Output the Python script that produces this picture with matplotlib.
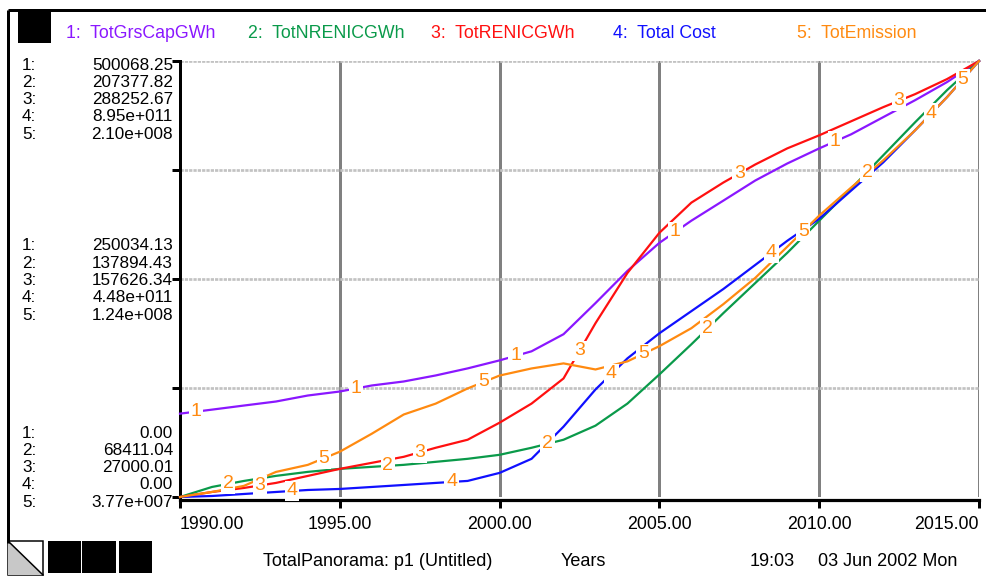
import numpy as np
import matplotlib
matplotlib.use("Agg")
import matplotlib.pyplot as plt
from matplotlib.patches import Rectangle, Polygon

plt.rcParams['font.family'] = ['Liberation Sans', 'DejaVu Sans']

W, H = 987, 576

years = list(range(1990, 2016))

# values, one per year
tot_grs_cap = [95600, 100200, 104900, 109500, 116400, 121000, 127900, 132500,
               139400, 147500, 156700, 167100, 186700, 222400, 259300, 291500,
               316900, 339900, 363000, 382500, 399800, 416000, 435600, 455100,
               475900, 500068]
tot_nrenic = [68411, 71610, 73530, 75140, 76420, 77380, 78020, 78660, 79620,
              80580, 81860, 84100, 86660, 91150, 98190, 107480, 117080, 127010,
              136610, 146220, 156470, 166710, 177280, 187840, 198090, 207378]
tot_renic = [27000, 30010, 32420, 35430, 39640, 43860, 47470, 51080, 56500,
             61320, 71540, 82980, 98030, 131140, 161240, 185320, 203380, 215420,
             226250, 235890, 243710, 252140, 260570, 268390, 277420, 288253]
total_cost = [0, 2.06e9, 6.19e9, 1.03e10, 1.44e10, 1.65e10, 2.06e10, 2.47e10,
              2.89e10, 3.30e10, 4.95e10, 7.84e10, 1.444e11, 2.207e11, 2.846e11,
              3.361e11, 3.815e11, 4.269e11, 4.764e11, 5.259e11, 5.712e11,
              6.290e11, 6.867e11, 7.527e11, 8.208e11, 8.95e11]
tot_emission = [3.77e7, 3.97e7, 4.21e7, 4.76e7, 5.04e7, 5.56e7, 6.27e7, 7.03e7,
                7.46e7, 8.06e7, 8.57e7, 8.85e7, 9.05e7, 8.81e7, 9.13e7, 9.73e7,
                1.044e8, 1.139e8, 1.243e8, 1.366e8, 1.489e8, 1.600e8, 1.707e8,
                1.826e8, 1.957e8, 2.10e8]

names = ["TotGrsCapGWh", "TotNRENICGWh", "TotRENICGWh", "Total Cost", "TotEmission"]
series = [tot_grs_cap, tot_nrenic, tot_renic, total_cost, tot_emission]
colors = ["#8a17ff", "#0a9a4a", "#ff1010", "#1010ff", "#ff8a10"]

scale_top = ["500068.25", "207377.82", "288252.67", "8.95e+011", "2.10e+008"]
scale_mid = ["250034.13", "137894.43", "157626.34", "4.48e+011", "1.24e+008"]
scale_bot = ["0.00", "68411.04", "27000.01", "0.00", "3.77e+007"]

xticks = [1990, 1995, 2000, 2005, 2010, 2015]
xtick_labels = ["1990.00", "1995.00", "2000.00", "2005.00", "2010.00", "2015.00"]

label_color = "#ff8a10"
px = 72.0 / 100  # one pixel in points

fig = plt.figure(figsize=(W / 100, H / 100), dpi=100)

# main frame of the graph
ax = fig.add_axes([180 / W, 1 - 497 / H, (979 - 180) / W, (497 - 61) / H])
ax.set_xlim(1990, 2015)
ax.set_ylim(0, 1)
for s in ["top", "right"]:
    ax.spines[s].set_visible(False)
ax.spines["left"].set_linewidth(3 * px)
ax.spines["bottom"].set_linewidth(3.2 * px)
ax.spines["bottom"].set_position(("outward", 3 * px))

for yr in xticks[1:]:
    ax.axvline(yr, color="#808080", lw=3 * px, zorder=0)
for lev in [0.25, 0.5, 0.75, 1.0]:
    ax.axhline(lev, color="#c2c2c2", lw=2.7 * px, ls=(0, (1.2, 0.4)), zorder=0)

ax.set_xticks(xticks)
ax.set_xticklabels(xtick_labels, fontsize=12.8)
ax.set_yticks([0, 0.25, 0.5, 0.75, 1.0])
ax.set_yticklabels([])
ax.tick_params(axis="x", direction="out", length=8 * px, width=3 * px, pad=6)
ax.tick_params(axis="y", direction="out", length=8 * px, width=3 * px)
tl = ax.get_xticklabels()
tl[0].set_ha("left")
tl[-1].set_ha("right")

# each series on its own scale
twins = []
for vals, col, lo, hi in zip(series, colors, scale_bot, scale_top):
    tw = ax.twinx()
    tw.set_ylim(float(lo), float(hi))
    tw.axis("off")
    tw.plot(years, vals, color=col, lw=1.6, clip_on=False, solid_joinstyle="miter")
    twins.append(tw)

# overlay in pixel coordinates for the panel decoration and texts
ov = fig.add_axes([0, 0, 1, 1])
ov.set_xlim(0, W)
ov.set_ylim(H, 0)
ov.axis("off")

# numbered line labels
for k, (vals, tw) in enumerate(zip(series, twins)):
    for n in range(5):
        x = 1990.5 + k + 5 * n
        y = np.interp(x, years, vals)
        ov.text(x, y, str(k + 1), transform=tw.transData, color=label_color,
                fontsize=14, ha="center", va="center",
                bbox=dict(facecolor="white", edgecolor="none", pad=1.2))

# legend across the top
legend_x = [66, 248, 431, 613, 797]
for k, (nm, col, x) in enumerate(zip(names, colors, legend_x)):
    ov.text(x, 33, f"{k + 1}:  {nm}", color=col, fontsize=12.8,
            ha="left", va="center")

# scale values on the left
for group, y0 in [(scale_top, 65), (scale_mid, 246), (scale_bot, 433)]:
    for k, val in enumerate(group):
        y = y0 + k * 17.3
        ov.text(22, y, f"{k + 1}:", fontsize=12.3, ha="left", va="center")
        ov.text(173, y, val, fontsize=12.3, ha="right", va="center")

# footer
ov.text(263, 561, "TotalPanorama: p1 (Untitled)", fontsize=13, ha="left", va="center")
ov.text(561, 561, "Years", fontsize=13, ha="left", va="center")
ov.text(750, 561, "19:03", fontsize=13, ha="left", va="center")
ov.text(818, 561, "03 Jun 2002 Mon", fontsize=13, ha="left", va="center")

# window decoration
ov.plot([8, W], [10, 10], color="black", lw=3 * px, solid_capstyle="butt")
ov.plot([8, 8], [10, 543], color="black", lw=3 * px, solid_capstyle="butt")
ov.add_patch(Rectangle((18, 12), 33, 31, facecolor="black", edgecolor="none"))
ov.add_patch(Rectangle((8, 541), 35, 34, facecolor="white", edgecolor="black", lw=1.5 * px))
ov.add_patch(Polygon([(8, 541), (8, 575), (43, 575)], closed=True,
                     facecolor="#c8c8c8", edgecolor="none"))
ov.plot([8, 43], [541, 575], color="black", lw=1.5 * px)
for x0, w in [(48, 33), (82, 34), (119, 33)]:
    ov.add_patch(Rectangle((x0, 541), w, 32, facecolor="black", edgecolor="none"))

fig.savefig("out.png", dpi=100)
